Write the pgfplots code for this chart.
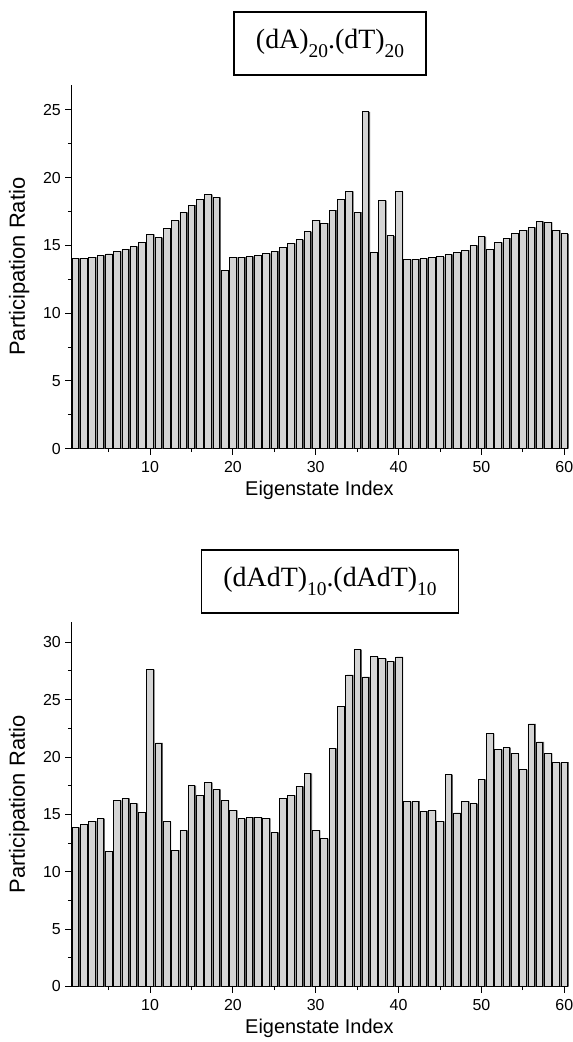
\documentclass[border=0pt]{standalone}
\usepackage{pgfplots}
\pgfplotsset{compat=1.18}
\usepackage{pgfplotstable}
\usepackage{fontspec}
\setmainfont{Liberation Sans}
\newfontfamily\serifbox{Liberation Serif}
\definecolor{barfill}{HTML}{D4D4D4}
\definecolor{barshadow}{HTML}{5E5E5E}

\pgfplotstableread{
x y
1 14.04
2 14.06
3 14.14
4 14.26
5 14.38
6 14.56
7 14.73
8 14.93
9 15.25
10 15.81
11 15.57
12 16.26
13 16.82
14 17.44
15 17.98
16 18.42
17 18.74
18 18.55
19 13.15
20 14.14
21 14.14
22 14.19
23 14.29
24 14.41
25 14.58
26 14.88
27 15.15
28 15.42
29 16.01
30 16.87
31 16.65
32 17.61
33 18.42
34 18.99
35 17.46
36 24.86
37 14.51
38 18.30
39 15.71
40 18.97
41 13.97
42 13.99
43 14.04
44 14.11
45 14.16
46 14.33
47 14.48
48 14.66
49 15.00
50 15.64
51 14.70
52 15.22
53 15.54
54 15.89
55 16.13
56 16.33
57 16.77
58 16.70
59 16.13
60 15.86
}\dataA

\pgfplotstableread{
x y
1 13.87
2 14.13
3 14.42
4 14.62
5 11.74
6 16.22
7 16.40
8 15.96
9 15.15
10 27.62
11 21.22
12 14.36
13 11.89
14 13.60
15 17.50
16 16.66
17 17.76
18 17.18
19 16.22
20 15.35
21 14.62
22 14.77
23 14.74
24 14.65
25 13.43
26 16.42
27 16.66
28 17.44
29 18.58
30 13.60
31 12.88
32 20.76
33 24.39
34 27.15
35 29.36
36 26.98
37 28.75
38 28.58
39 28.34
40 28.72
41 16.10
42 16.16
43 15.29
44 15.35
45 14.39
46 18.46
47 15.12
48 16.13
49 15.93
50 18.05
51 22.03
52 20.67
53 20.81
54 20.29
55 18.90
56 22.88
57 21.31
58 20.32
59 19.51
60 19.56
}\dataB

\newcommand{\sub}[1]{\raisebox{-0.3em}{\fontsize{19.5}{19.5}\selectfont #1}}

\pgfplotsset{
  prstyle/.style={
    scale only axis,
    width=496.3bp,
    height=364bp,
    xmin=0.5, xmax=60.4,
    ymin=0,
    axis x line*=bottom,
    axis y line*=left,
    axis line style={black, line width=1bp, -},
    xtick={10,20,...,60},
    minor xtick={5,15,...,55},
    tick align=outside,
    major tick length=6bp,
    minor tick length=3.5bp,
    every tick/.style={black, line width=0.9bp},
    ticklabel style={font=\fontsize{16}{18}\selectfont},
    xticklabel style={yshift=-3.5bp},
    yticklabel style={xshift=-1bp},
    /pgf/number format/assume math mode=true,
    xlabel={Eigenstate Index},
    ylabel={Participation Ratio},
    xlabel style={font=\fontsize{20}{22}\selectfont, at={(axis description cs:0.5,-0.115)}, anchor=center},
    ylabel style={font=\fontsize{22}{24}\selectfont, at={(axis description cs:-0.105,0.5)}, anchor=center},
    clip=false,
  },
}

\begin{document}
\begin{tikzpicture}
\path[use as bounding box] (0,0) rectangle (573bp,1042bp);

\begin{axis}[prstyle,
  at={(71.3bp,593.3bp)}, anchor=south west,
  ymax=26.86,
  ytick={0,5,...,25},
  minor ytick={2.5,7.5,...,22.5},
]
\addplot[ybar, bar width=6.5bp, bar shift=1.4bp, fill=barshadow, draw=none] table[x=x,y=y] {\dataA};
\addplot[ybar, bar width=6.5bp, bar shift=0bp, fill=barfill, draw=black, line width=0.6bp] table[x=x,y=y] {\dataA};
\end{axis}

\begin{axis}[prstyle,
  at={(71.3bp,55.5bp)}, anchor=south west,
  ymax=31.72,
  ytick={0,5,...,30},
  minor ytick={2.5,7.5,...,27.5},
]
\addplot[ybar, bar width=6.5bp, bar shift=1.4bp, fill=barshadow, draw=none] table[x=x,y=y] {\dataB};
\addplot[ybar, bar width=6.5bp, bar shift=0bp, fill=barfill, draw=black, line width=0.6bp] table[x=x,y=y] {\dataB};
\end{axis}

\node[draw=black, line width=1.6bp, minimum height=63bp, inner xsep=22bp, font=\serifbox\fontsize{28}{30}\selectfont]
  at (330bp,998.5bp) {(dA)\sub{20}.(dT)\sub{20}};
\node[draw=black, line width=1.6bp, minimum height=63bp, inner xsep=22bp, font=\serifbox\fontsize{28}{30}\selectfont]
  at (330bp,460.5bp) {(dAdT)\sub{10}.(dAdT)\sub{10}};
\end{tikzpicture}
\end{document}
